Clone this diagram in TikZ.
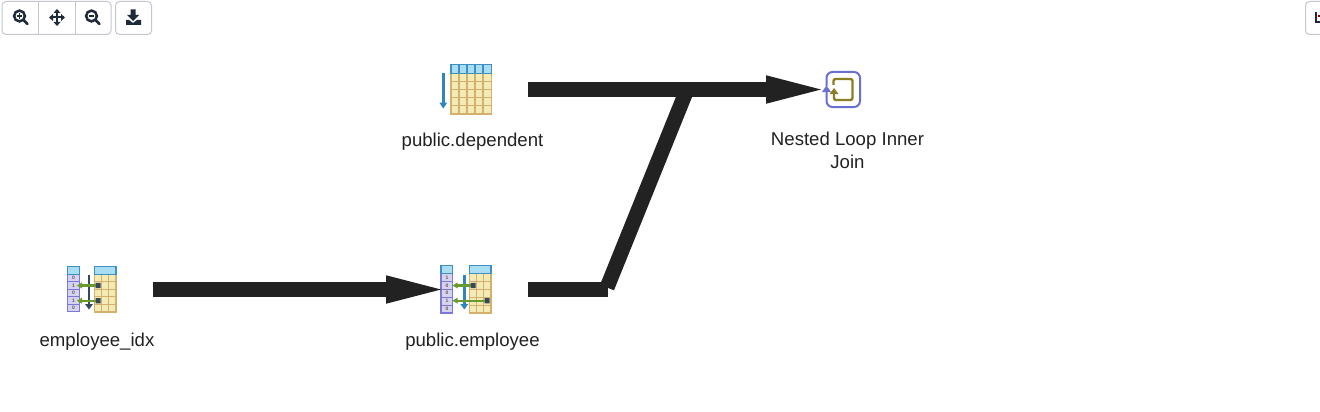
\documentclass[tikz,border=0pt]{standalone}
\usepackage{fontspec}
\setmainfont{Liberation Sans}
\usetikzlibrary{arrows.meta}
\definecolor{edgec}{HTML}{222222}
\definecolor{hdr}{HTML}{A9DDF2}
\definecolor{hdrb}{HTML}{3F8FC0}
\definecolor{cell}{HTML}{F2EBB5}
\definecolor{cellb}{HTML}{D4B06C}
\definecolor{idx}{HTML}{D5D3F3}
\definecolor{idxb}{HTML}{7B78D8}
\definecolor{scanb}{HTML}{2F86BC}
\definecolor{darkb}{HTML}{34495E}
\definecolor{grn}{HTML}{6B9A2C}
\definecolor{olive}{HTML}{8A7F22}
\definecolor{loopb}{HTML}{6A70D2}
\definecolor{btn}{HTML}{C3C7D2}
\definecolor{glyph}{HTML}{1F2A38}
\tikzset{
  x=1pt,y=-1pt,
  lbl/.style={font=\fontsize{18.6}{23}\selectfont,text=edgec,align=center,inner sep=0pt},
  anchorbox/.style={minimum width=#1,minimum height=1pt,inner sep=0pt,outer sep=0pt},
  flow/.style={draw=edgec,line width=15pt,line cap=butt,line join=miter},
  flowhead/.style={flow,-{Triangle[length=55pt,width=28.5pt,line width=0pt,sep=0pt]}},
  btnbox/.style={draw=btn,line width=1pt,rounded corners=4pt,fill=white},
  gly/.style={draw=glyph,line width=2.5pt,line cap=round},
  gridl/.style={cellb,line width=1.1pt},
  idxl/.style={idxb,line width=1.1pt},
  hdrl/.style={hdrb,line width=1.2pt},
  tiny/.style={font=\bfseries\fontsize{5}{5}\selectfont,text=darkb!70!orange,inner sep=0pt},
}
\begin{document}
\begin{tikzpicture}
\useasboundingbox[fill=white] (0,0) rectangle (1320,412);

% toolbar
\draw[btnbox] (2,1.5) rectangle (111,34.5);
\draw[btn,line width=1pt] (38.5,1.5) -- (38.5,34.5) (75,1.5) -- (75,34.5);
\draw[btnbox] (115.5,1.5) rectangle (151.5,34.5);
\draw[btnbox] (1305.5,1.5) rectangle (1330,34.5);
% zoom in
\draw[gly] (19.5,16) circle (5.4pt) (23.7,20.2) -- (27.5,24);
\draw[glyph,line width=1.7pt] (16.7,16) -- (22.3,16) (19.5,13.2) -- (19.5,18.8);
% pan
\draw[glyph,line width=2pt] (50.5,17.5) -- (63.5,17.5) (57,11) -- (57,24);
\fill[glyph] (57,9) -- (60.5,13) -- (53.5,13) -- cycle (57,26) -- (60.5,22) -- (53.5,22) -- cycle
  (49,17.5) -- (53,14) -- (53,21) -- cycle (65,17.5) -- (61,14) -- (61,21) -- cycle;
% zoom out
\draw[gly] (91.5,16) circle (5.4pt) (95.7,20.2) -- (99.5,24);
\draw[glyph,line width=1.7pt] (88.7,16) -- (94.3,16);
% download
\fill[glyph] (130.5,9.5) -- (135.5,9.5) -- (135.5,15) -- (139,15) -- (133,21) -- (127,15) -- (130.5,15) -- cycle;
\fill[glyph] (126,20) -- (129,20) -- (133,23) -- (137,20) -- (141,20) -- (141,25) -- (126,25) -- cycle;
% right button glyph
\draw[glyph,line width=1.6pt] (1316,12) -- (1316,22) -- (1320,22);
\fill[red!55!black] (1318,15.5) rectangle (1320,17);

% named anchors of the plan nodes
\node[anchorbox=1pt] (idxOut) at (153,289.5) {};
\node[anchorbox=1pt] (empIn) at (441,289.5) {};
\node[anchorbox=1pt] (empOut) at (528,289.5) {};
\node[anchorbox=1pt] (depOut) at (528,89.5) {};
\node[anchorbox=1pt] (joinIn) at (821,89.5) {};
\coordinate (bendA) at (607.5,289.5);
\coordinate (bendB) at (607,287.5);
\coordinate (bendC) at (687,89.5);

% --- dependent
\begin{scope}
\fill[cell,draw=cellb,line width=1.3pt] (451,73.5) rectangle (491.5,114);
\draw[gridl] (459,73.5) -- (459,114) (467,73.5) -- (467,114) (475,73.5) -- (475,114) (483,73.5) -- (483,114)
  (451,81.5) -- (491.5,81.5) (451,89.5) -- (491.5,89.5) (451,97.5) -- (491.5,97.5) (451,105.5) -- (491.5,105.5);
\fill[hdr,draw=hdrb,line width=1.5pt] (451,64.5) rectangle (491.5,73.5);
\draw[hdrl] (459,64.5) -- (459,73.5) (467,64.5) -- (467,73.5) (475,64.5) -- (475,73.5) (483,64.5) -- (483,73.5);
\draw[scanb,line width=2.4pt] (443.3,73) -- (443.3,105);
\fill[scanb] (439.3,102.5) -- (447.3,102.5) -- (443.3,108.5) -- cycle;
\end{scope}
% --- employee_idx
\begin{scope}
\fill[idx,draw=idxb,line width=1.3pt] (67.7,274.3) rectangle (79.3,311.7);
\draw[idxl] (67.7,281.8) -- (79.3,281.8) (67.7,289.3) -- (79.3,289.3) (67.7,296.8) -- (79.3,296.8) (67.7,304.3) -- (79.3,304.3);
\fill[hdr,draw=hdrb,line width=1.5pt] (67.7,266.7) rectangle (79.3,274.3);
\node[tiny] (i1) at (73.5,278) {0}; \node[tiny] (i2) at (73.5,285.5) {1}; \node[tiny] (i3) at (73.5,293) {0}; \node[tiny] (i4) at (73.5,300.5) {1}; \node[tiny] (i5) at (73.5,308) {0};
\fill[cell,draw=cellb,line width=1.3pt] (94.3,274.3) rectangle (116,312);
\draw[gridl] (101.5,274.3) -- (101.5,312) (108.7,274.3) -- (108.7,312)
  (94.3,281.8) -- (116,281.8) (94.3,289.3) -- (116,289.3) (94.3,296.8) -- (116,296.8) (94.3,304.3) -- (116,304.3);
\fill[hdr,draw=hdrb,line width=1.5pt] (94.3,266.7) rectangle (116,274.3);
\draw[darkb,line width=2.3pt] (89,274.5) -- (89,306);
\fill[darkb] (85,304) -- (93,304) -- (89,309.5) -- cycle;
\fill[darkb] (95.5,282.8) rectangle (100.5,288.2) (95.5,298) rectangle (100.5,303.4);
\draw[grn,line width=2.2pt] (96,285.5) -- (79.5,285.5) (96,300.7) -- (79.5,300.7);
\fill[grn] (77,285.5) -- (82,282.5) -- (82,288.5) -- cycle (77,300.7) -- (82,297.7) -- (82,303.7) -- cycle;
\end{scope}
% --- employee
\begin{scope}
\fill[idx,draw=idxb,line width=1.3pt] (441,273.3) rectangle (452.7,313);
\draw[idxl] (441,281.3) -- (452.7,281.3) (441,289.3) -- (452.7,289.3) (441,297.3) -- (452.7,297.3) (441,305.3) -- (452.7,305.3);
\fill[hdr,draw=hdrb,line width=1.5pt] (441,265.7) rectangle (452.7,273.3);
\node[tiny] (e1) at (447,277.5) {1}; \node[tiny] (e2) at (447,285.5) {0}; \node[tiny] (e3) at (447,293) {0}; \node[tiny] (e4) at (447,301) {1}; \node[tiny] (e5) at (447,309) {0};
\fill[cell,draw=cellb,line width=1.3pt] (469.3,273.3) rectangle (491,313);
\draw[gridl] (476.5,273.3) -- (476.5,313) (483.7,273.3) -- (483.7,313)
  (469.3,281.3) -- (491,281.3) (469.3,289.3) -- (491,289.3) (469.3,297.3) -- (491,297.3) (469.3,305.3) -- (491,305.3);
\fill[hdr,draw=hdrb,line width=1.5pt] (469.3,265.7) rectangle (491,273.3);
\draw[scanb,line width=2.4pt] (464.3,274.5) -- (464.3,306);
\fill[scanb] (460.3,304) -- (468.3,304) -- (464.3,309.5) -- cycle;
\fill[darkb] (470.5,282.8) rectangle (475.5,288.2) (484.5,298) rectangle (489.5,303.4);
\draw[grn,line width=2.2pt] (471,285.5) -- (455,285.5) (485,300.7) -- (455,300.7);
\fill[grn] (452.5,285.5) -- (457.5,282.5) -- (457.5,288.5) -- cycle (452.5,300.7) -- (457.5,297.7) -- (457.5,303.7) -- cycle;
\end{scope}
% --- join
\begin{scope}
\draw[loopb,line width=2pt,rounded corners=6pt] (826.5,92) -- (826.5,107) -- (860,107) -- (860,72) -- (826.5,72) -- (826.5,86);
\draw[olive,line width=2.4pt,line join=round,rounded corners=2pt] (833.5,85) -- (833.5,79) -- (852.5,79) -- (852.5,100) -- (834,100) -- (834,93);
\fill[olive] (829.5,94) -- (838.5,94) -- (834,88) -- cycle;
\end{scope}

% connectors
\draw[flowhead] (idxOut.center) -- (empIn.center);
\draw[flow] (empOut.center) -- (bendA);
\draw[flow] (bendB) -- (bendC);
\draw[flowhead] (depOut.center) -- (joinIn.center);
\fill[loopb] (822,92) -- (831,92) -- (826.5,85.5) -- cycle;

% labels
\node[lbl] (depLbl) at (472.5,141.3) {public.dependent};
\node[lbl] (joinLbl) at (847.5,150.2) {Nested Loop Inner\\Join};
\node[lbl] (idxLbl) at (97,341.3) {employee\_idx};
\node[lbl] (empLbl) at (472.5,341.3) {public.employee};
\end{tikzpicture}
\end{document}
